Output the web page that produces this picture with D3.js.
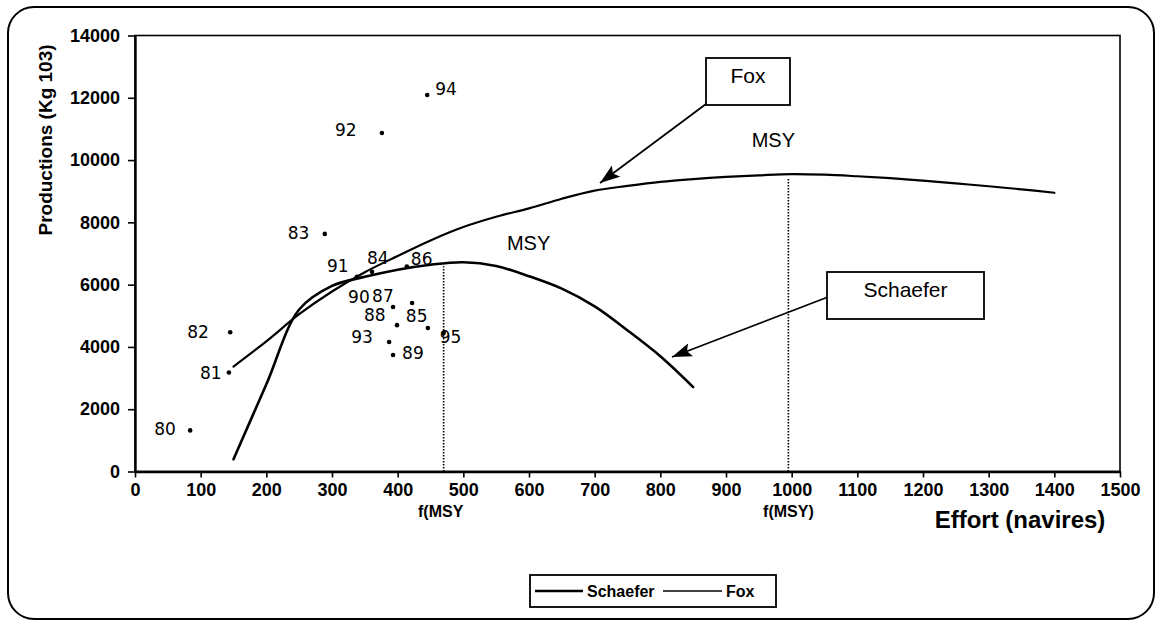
<!DOCTYPE html>
<html>
<head>
<meta charset="utf-8">
<script src="https://cdn.jsdelivr.net/npm/d3@7/dist/d3.min.js"></script>
<style>
  html, body { margin: 0; padding: 0; background: #fff; }
  svg { display: block; }
</style>
</head>
<body>
<svg id="chart" width="1163" height="625"></svg>
<script>
// Effort (number of vessels) grid for the fitted production curves
const effortGrid = [150, 200, 250, 300, 350, 400, 450, 500, 550, 600, 650, 700, 750, 800, 850,
                    900, 950, 1000, 1050, 1100, 1150, 1200, 1250, 1300, 1350, 1400];
// Schaefer model, defined up to 850 vessels
const schaeferEffort = [150, 200, 250, 300, 350, 400, 450, 500, 550, 600, 650, 700, 750, 800, 850];
const schaeferYield  = [390, 2800, 5200, 5960, 6250, 6480, 6640, 6720, 6600, 6270, 5870, 5300, 4530, 3700, 2710];
// Fox model, defined over the whole effort grid
const foxYield = [3370, 4180, 5050, 5780, 6400, 6920, 7420, 7850, 8180, 8450, 8760, 9020, 9170, 9300, 9390,
                  9460, 9510, 9550, 9530, 9480, 9420, 9340, 9250, 9160, 9060, 8950];

// Observed yearly catches (year, effort, production)
const obsYear   = ["80", "81", "82", "83", "84", "85", "86", "87", "88", "89", "90", "91", "92", "93", "94", "95"];
const obsEffort = [84, 143, 145, 289, 361, 446, 414, 422, 399, 393, 393, 338, 376, 387, 445, 470];
const obsCatch  = [1320, 3180, 4470, 7630, 6410, 4610, 6580, 5410, 4700, 3740, 5280, 6250, 10870, 4160, 12090, 4450];

// Effort at maximum sustainable yield for each model
const fMsySchaefer = 470;
const fMsyFox = 995;

// Axis ticks
const xTicks = [0, 100, 200, 300, 400, 500, 600, 700, 800, 900, 1000, 1100, 1200, 1300, 1400, 1500];
const yTicks = [0, 2000, 4000, 6000, 8000, 10000, 12000, 14000];

const svg = d3.select("#chart");
const FONT = "'Liberation Sans', Arial, Helvetica, sans-serif";
const HAND = "'DejaVu Sans', 'Noto Sans', sans-serif";

const x = d3.scaleLinear().domain([0, 1500]).range([135, 1120]);
const y = d3.scaleLinear().domain([0, 14000]).range([471.5, 35.5]);

// Rounded outer frame
svg.append("rect")
  .attr("x", 8).attr("y", 7).attr("width", 1146).attr("height", 612)
  .attr("rx", 26).attr("ry", 26)
  .attr("fill", "none").attr("stroke", "#000").attr("stroke-width", 2);

// Plot area frame
svg.append("rect")
  .attr("x", x(0)).attr("y", y(14000))
  .attr("width", x(1500) - x(0)).attr("height", y(0) - y(14000))
  .attr("fill", "none").attr("stroke", "#000").attr("stroke-width", 1.6);

// Axes
const xAxis = svg.append("g")
  .attr("transform", `translate(0,${y(0)})`)
  .call(d3.axisBottom(x).tickValues(xTicks).tickFormat(d3.format("d"))
    .tickSize(6).tickSizeOuter(0).tickPadding(6));
const yAxis = svg.append("g")
  .attr("transform", `translate(${x(0)},0)`)
  .call(d3.axisLeft(y).tickValues(yTicks).tickFormat(d3.format("d"))
    .tickSize(7).tickSizeOuter(0).tickPadding(8));

[xAxis, yAxis].forEach(g => {
  g.select(".domain").attr("stroke", "#000").attr("stroke-width", 2.4);
  g.selectAll(".tick line").attr("stroke", "#000").attr("stroke-width", 1.6);
  g.selectAll(".tick text")
    .attr("fill", "#000")
    .style("font-family", FONT).style("font-size", "18px").style("font-weight", "bold");
});

// Axis titles
svg.append("text")
  .attr("transform", `translate(52,140) rotate(-90)`)
  .attr("text-anchor", "middle")
  .style("font-family", FONT).style("font-size", "19px").style("font-weight", "bold")
  .text("Productions (Kg 103)");

svg.append("text")
  .attr("x", 1020).attr("y", 528)
  .attr("text-anchor", "middle")
  .style("font-family", FONT).style("font-size", "24px").style("font-weight", "bold")
  .text("Effort (navires)");

// Dotted MSY effort markers
const msyLines = [
  { f: fMsySchaefer, top: d3.max(schaeferYield) },
  { f: fMsyFox, top: d3.max(foxYield) }
];
svg.selectAll("line.msy").data(msyLines).join("line")
  .attr("class", "msy")
  .attr("x1", d => x(d.f)).attr("x2", d => x(d.f))
  .attr("y1", y(0)).attr("y2", d => y(d.top) + 4)
  .attr("stroke", "#000").attr("stroke-width", 1.6).attr("stroke-dasharray", "1.5,1.5");

// f(MSY) labels under the axis
svg.append("text")
  .attr("x", x(fMsySchaefer) - 3).attr("y", 517).attr("text-anchor", "middle")
  .style("font-family", FONT).style("font-size", "16px").style("font-weight", "bold")
  .text("f(MSY");
svg.append("text")
  .attr("x", x(fMsyFox)).attr("y", 517).attr("text-anchor", "middle")
  .style("font-family", FONT).style("font-size", "16px").style("font-weight", "bold")
  .text("f(MSY)");

// Model curves
const line = d3.line().x(d => x(d[0])).y(d => y(d[1])).curve(d3.curveCatmullRom.alpha(0.5));
svg.append("path")
  .datum(schaeferEffort.map((e, i) => [e, schaeferYield[i]]))
  .attr("d", line).attr("fill", "none").attr("stroke", "#000").attr("stroke-width", 2.6)
  .attr("stroke-linecap", "round");
svg.append("path")
  .datum(effortGrid.map((e, i) => [e, foxYield[i]]))
  .attr("d", line).attr("fill", "none").attr("stroke", "#000").attr("stroke-width", 2.2)
  .attr("stroke-linecap", "round");

// MSY labels above each curve's maximum
svg.append("text")
  .attr("x", x(fMsySchaefer) + 85).attr("y", y(d3.max(schaeferYield)) - 12).attr("text-anchor", "middle")
  .style("font-family", FONT).style("font-size", "20px")
  .text("MSY");
svg.append("text")
  .attr("x", x(fMsyFox) - 15).attr("y", y(d3.max(foxYield)) - 27).attr("text-anchor", "middle")
  .style("font-family", FONT).style("font-size", "20px")
  .text("MSY");

// Observed catches: dots with hand-written year labels
const labelShift = {
  "80": [-36, 5], "81": [-29, 7], "82": [-43, 6], "83": [-37, 5], "84": [-5, -8],
  "85": [-22, -6], "86": [4, -2], "87": [-40, -1], "88": [-33, -4], "89": [9, 4],
  "90": [-45, -4], "91": [-30, -5], "92": [-47, 3], "93": [-38, 1], "94": [8, 0], "95": [-4, 10]
};
const obs = obsYear.map((yr, i) => ({ yr, e: obsEffort[i], c: obsCatch[i] }));
svg.selectAll("circle.obs").data(obs).join("circle")
  .attr("class", "obs")
  .attr("cx", d => x(d.e)).attr("cy", d => y(d.c)).attr("r", 2.3)
  .attr("fill", "#000");
svg.selectAll("text.obs").data(obs).join("text")
  .attr("class", "obs")
  .attr("x", d => x(d.e) + labelShift[d.yr][0])
  .attr("y", d => y(d.c) + labelShift[d.yr][1])
  .style("font-family", HAND).style("font-size", "17px")
  .text(d => d.yr);

// Callout boxes with arrows
const defs = svg.append("defs");
defs.append("marker")
  .attr("id", "head").attr("viewBox", "0 0 20 14")
  .attr("refX", 20).attr("refY", 7)
  .attr("markerWidth", 20).attr("markerHeight", 14)
  .attr("markerUnits", "userSpaceOnUse").attr("orient", "auto")
  .append("path").attr("d", "M0,0 L20,7 L0,14 L4,7 z").attr("fill", "#000");

const callouts = [
  { text: "Fox", box: [706, 58, 84, 47], textY: 83, from: [706, 104], to: [600, 183] },
  { text: "Schaefer", box: [827, 272, 157, 47], textY: 297, from: [828, 297], to: [672, 357] }
];
callouts.forEach(c => {
  svg.append("line")
    .attr("x1", c.from[0]).attr("y1", c.from[1]).attr("x2", c.to[0]).attr("y2", c.to[1])
    .attr("stroke", "#000").attr("stroke-width", 1.8).attr("marker-end", "url(#head)");
  svg.append("rect")
    .attr("x", c.box[0]).attr("y", c.box[1]).attr("width", c.box[2]).attr("height", c.box[3])
    .attr("fill", "#fff").attr("stroke", "#000").attr("stroke-width", 1.8);
  svg.append("text")
    .attr("x", c.box[0] + c.box[2] / 2).attr("y", c.textY).attr("text-anchor", "middle")
    .style("font-family", FONT).style("font-size", "21px")
    .text(c.text);
});

// Legend
const lg = svg.append("g");
lg.append("rect").attr("x", 530).attr("y", 575).attr("width", 246).attr("height", 32)
  .attr("fill", "#fff").attr("stroke", "#000").attr("stroke-width", 1.8);
lg.append("line").attr("x1", 535).attr("x2", 583).attr("y1", 591).attr("y2", 591)
  .attr("stroke", "#000").attr("stroke-width", 2.6);
lg.append("text").attr("x", 587).attr("y", 597)
  .style("font-family", FONT).style("font-size", "16px").style("font-weight", "bold")
  .text("Schaefer");
lg.append("line").attr("x1", 663).attr("x2", 722).attr("y1", 591).attr("y2", 591)
  .attr("stroke", "#000").attr("stroke-width", 1.4);
lg.append("text").attr("x", 726).attr("y", 597)
  .style("font-family", FONT).style("font-size", "16px").style("font-weight", "bold")
  .text("Fox");
</script>
</body>
</html>
